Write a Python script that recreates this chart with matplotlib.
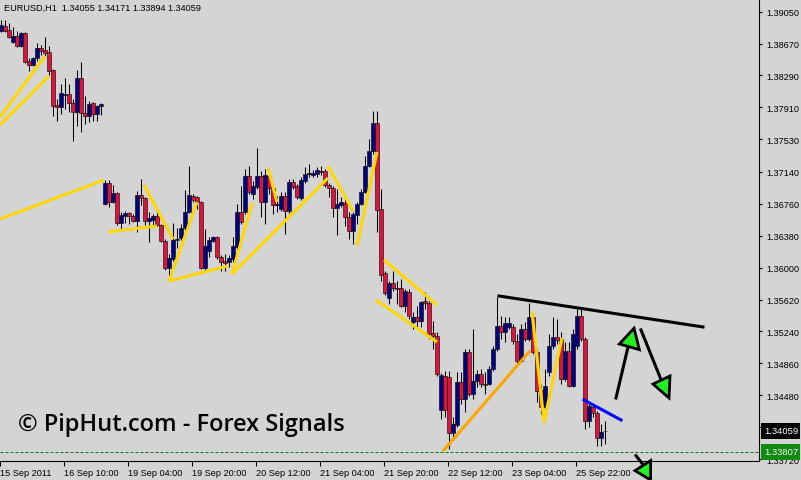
import matplotlib
matplotlib.use("Agg")
import matplotlib.pyplot as plt
from matplotlib.patches import Polygon, Rectangle
from matplotlib.transforms import blended_transform_factory

# ---------------- data (EURUSD H1) ----------------
opens = [1.38820, 1.38880, 1.38832, 1.38688, 1.38760, 1.38641, 1.38796, 1.38462, 1.38415, 1.38498,
         1.38617, 1.38593, 1.38569, 1.38355, 1.37939, 1.37915, 1.38057, 1.38069, 1.37962, 1.37855,
         1.38260, 1.37843, 1.37807, 1.37962, 1.37831, 1.37927, 1.36758, 1.37009, 1.36782, 1.36890,
         1.36532, 1.36616, 1.36651, 1.36616, 1.36556, 1.36866, 1.36830, 1.36556, 1.36568, 1.36616,
         1.36509, 1.36318, 1.35997, 1.36104, 1.36330, 1.36354, 1.36473, 1.36663, 1.36854, 1.36842,
         1.36782, 1.35997, 1.36199, 1.36318, 1.36366, 1.36128, 1.36080, 1.36068, 1.36104, 1.36247,
         1.36663, 1.36663, 1.37093, 1.36878, 1.36962, 1.37093, 1.36782, 1.37093, 1.36950, 1.36747,
         1.36699, 1.36854, 1.36675, 1.37021, 1.36974, 1.36830, 1.37033, 1.37117, 1.37105, 1.37117,
         1.37152, 1.37152, 1.36986, 1.36950, 1.36711, 1.36747, 1.36770, 1.36604, 1.36437, 1.36627,
         1.36758, 1.36902, 1.37212, 1.37390, 1.37724, 1.36699, 1.35937, 1.35639, 1.35817, 1.35758,
         1.35758, 1.35544, 1.35710, 1.35353, 1.35413, 1.35365, 1.35603, 1.35580, 1.35222, 1.35187,
         1.34305, 1.34710, 1.34698, 1.34031, 1.34126, 1.34638, 1.34436, 1.34996, 1.34496, 1.34650,
         1.34734, 1.34614, 1.34614, 1.34793, 1.35031, 1.35306, 1.35234, 1.35294, 1.35294, 1.35127,
         1.34889, 1.35270, 1.35151, 1.35413, 1.34996, 1.34543, 1.34341, 1.34758, 1.35067, 1.35175,
         1.35151, 1.34674, 1.35008, 1.34591, 1.35067, 1.35425, 1.35151, 1.34174, 1.34341, 1.34269,
         1.33971, 1.34055]
highs = [1.38951, 1.38951, 1.38915, 1.38868, 1.38820, 1.38808, 1.38808, 1.38498, 1.38510, 1.38676,
         1.38653, 1.38748, 1.38641, 1.38367, 1.38010, 1.38189, 1.38260, 1.38189, 1.38010, 1.38355,
         1.38450, 1.38045, 1.37986, 1.37974, 1.37939, 1.37962, 1.37045, 1.37045, 1.36986, 1.36902,
         1.36663, 1.36675, 1.36663, 1.36639, 1.36914, 1.37057, 1.36842, 1.36663, 1.36639, 1.36663,
         1.36520, 1.36342, 1.36163, 1.36532, 1.36473, 1.36520, 1.36926, 1.37212, 1.36878, 1.36854,
         1.36794, 1.36461, 1.36366, 1.36378, 1.36378, 1.36152, 1.36163, 1.36152, 1.36366, 1.36758,
         1.36974, 1.37176, 1.37212, 1.37033, 1.37426, 1.37152, 1.37176, 1.37176, 1.36986, 1.36854,
         1.36902, 1.36902, 1.37057, 1.37057, 1.36998, 1.37081, 1.37200, 1.37236, 1.37164, 1.37200,
         1.37212, 1.37176, 1.37009, 1.36974, 1.36938, 1.36842, 1.36818, 1.36663, 1.36663, 1.36782,
         1.36938, 1.37331, 1.37533, 1.37867, 1.37867, 1.36938, 1.35961, 1.35841, 1.35961, 1.35841,
         1.35865, 1.35746, 1.35746, 1.35472, 1.35544, 1.35603, 1.35710, 1.35603, 1.35365, 1.35234,
         1.34746, 1.34769, 1.34769, 1.34222, 1.34758, 1.34758, 1.35031, 1.35031, 1.35270, 1.34781,
         1.34793, 1.34758, 1.34829, 1.35067, 1.35651, 1.35425, 1.35413, 1.35413, 1.35329, 1.35210,
         1.35329, 1.35353, 1.35580, 1.35449, 1.35031, 1.34614, 1.34793, 1.35210, 1.35413, 1.35389,
         1.35234, 1.35115, 1.35115, 1.35270, 1.35508, 1.35508, 1.35175, 1.34400, 1.34377, 1.34293,
         1.34138, 1.34171]
lows = [1.38808, 1.38808, 1.38736, 1.38676, 1.38629, 1.38629, 1.38438, 1.38343, 1.38403, 1.38462,
        1.38534, 1.38522, 1.38296, 1.37807, 1.37748, 1.37831, 1.37891, 1.37855, 1.37509, 1.37688,
        1.37616, 1.37712, 1.37736, 1.37748, 1.37748, 1.37819, 1.36747, 1.36723, 1.36770, 1.36509,
        1.36461, 1.36532, 1.36520, 1.36544, 1.36425, 1.36747, 1.36509, 1.36306, 1.36509, 1.36497,
        1.36306, 1.35973, 1.35841, 1.36080, 1.36235, 1.36330, 1.36437, 1.36651, 1.36782, 1.36699,
        1.35985, 1.35961, 1.36128, 1.36306, 1.36104, 1.35961, 1.35961, 1.36009, 1.36068, 1.36223,
        1.36520, 1.36639, 1.36878, 1.36818, 1.36938, 1.36604, 1.36520, 1.36878, 1.36639, 1.36663,
        1.36675, 1.36401, 1.36651, 1.36938, 1.36818, 1.36806, 1.37009, 1.37081, 1.37081, 1.37081,
        1.37105, 1.36962, 1.36842, 1.36604, 1.36390, 1.36723, 1.36497, 1.36342, 1.36283, 1.36520,
        1.36747, 1.36890, 1.37200, 1.37355, 1.36425, 1.35841, 1.35675, 1.35568, 1.35722, 1.35568,
        1.35532, 1.35472, 1.35389, 1.35270, 1.35270, 1.35294, 1.35508, 1.35151, 1.35031, 1.34710,
        1.34198, 1.34222, 1.33840, 1.33959, 1.34102, 1.34377, 1.34281, 1.34472, 1.34436, 1.34579,
        1.34579, 1.34496, 1.34603, 1.34769, 1.35008, 1.35151, 1.35115, 1.35270, 1.35091, 1.34865,
        1.34877, 1.35127, 1.35127, 1.34972, 1.34400, 1.34257, 1.34317, 1.34710, 1.35031, 1.35091,
        1.34614, 1.34650, 1.34579, 1.34579, 1.35031, 1.35127, 1.34078, 1.34102, 1.34222, 1.33876,
        1.33876, 1.33894]
closes = [1.38892, 1.38820, 1.38748, 1.38760, 1.38641, 1.38796, 1.38450, 1.38415, 1.38498, 1.38617,
          1.38581, 1.38557, 1.38343, 1.37927, 1.37915, 1.38081, 1.38069, 1.37962, 1.37855, 1.38260,
          1.37843, 1.37807, 1.37950, 1.37831, 1.37927, 1.37950, 1.37009, 1.36782, 1.36890, 1.36532,
          1.36627, 1.36651, 1.36616, 1.36556, 1.36866, 1.36830, 1.36556, 1.36592, 1.36616, 1.36509,
          1.36318, 1.35997, 1.36116, 1.36330, 1.36342, 1.36473, 1.36663, 1.36866, 1.36806, 1.36782,
          1.35997, 1.36259, 1.36330, 1.36366, 1.36128, 1.36068, 1.36056, 1.36116, 1.36259, 1.36663,
          1.36544, 1.37093, 1.36902, 1.36974, 1.37093, 1.36782, 1.37105, 1.36950, 1.36747, 1.36758,
          1.36854, 1.36675, 1.37021, 1.36962, 1.36842, 1.37045, 1.37117, 1.37129, 1.37129, 1.37164,
          1.37140, 1.36986, 1.36950, 1.36711, 1.36758, 1.36782, 1.36604, 1.36437, 1.36639, 1.36758,
          1.36902, 1.37212, 1.37390, 1.37724, 1.36687, 1.35913, 1.35699, 1.35817, 1.35758, 1.35746,
          1.35544, 1.35722, 1.35425, 1.35413, 1.35365, 1.35592, 1.35580, 1.35210, 1.35187, 1.34734,
          1.34722, 1.34305, 1.34031, 1.34138, 1.34638, 1.34436, 1.34996, 1.34496, 1.34650, 1.34734,
          1.34614, 1.34603, 1.34793, 1.35031, 1.35306, 1.35234, 1.35341, 1.35341, 1.35127, 1.34889,
          1.35270, 1.35151, 1.35413, 1.34996, 1.34531, 1.34341, 1.34591, 1.35067, 1.35175, 1.35139,
          1.34674, 1.35008, 1.34591, 1.35210, 1.35425, 1.35151, 1.34174, 1.34353, 1.34269, 1.33971,
          1.34043, 1.34059]

ytick_values = [1.39050, 1.38670, 1.38290, 1.37910, 1.37530, 1.37140, 1.36760, 1.36380,
                1.36000, 1.35620, 1.35240, 1.34860, 1.34480, 1.34100, 1.33720]
ytick_hidden = [1.34100]  # covered by the last-price box in the terminal
xtick_bars = [0, 16, 32, 48, 64, 80, 96, 112, 128, 144]
xtick_labels = ["15 Sep 2011", "16 Sep 10:00", "19 Sep 04:00", "19 Sep 20:00", "20 Sep 12:00",
                "21 Sep 04:00", "21 Sep 20:00", "22 Sep 12:00", "23 Sep 04:00", "25 Sep 22:00"]
title_text = "EURUSD,H1  1.34055 1.34171 1.33894 1.34059"
watermark = "\u00a9 PipHut.com - Forex Signals"
last_price = 1.34059
ask_price = 1.33807

# drawn objects: (bar index, price) vertices
yellow_paths = [
    [(-0.25, 1.37795), (11.0, 1.38522)],
    [(-0.25, 1.37700), (12.0, 1.38284)],
    [(-0.25, 1.36580), (25.75, 1.37045)],
    [(26.75, 1.36425), (39.0, 1.36497)],
    [(35.75, 1.36986), (43.0, 1.36342)],
    [(42.0, 1.35841), (49.0, 1.36782)],
    [(42.0, 1.35841), (56.75, 1.36021)],
    [(57.75, 1.35925), (62.75, 1.36770)],
    [(57.75, 1.35925), (81.75, 1.37069)],
    [(66.75, 1.37188), (69.0, 1.36782)],
    [(81.75, 1.37212), (88.0, 1.36675)],
    [(89.0, 1.36259), (94.0, 1.37378)],
    [(95.75, 1.36092), (109.0, 1.35556)],
    [(93.75, 1.35615), (109.0, 1.35115)],
    [(132.75, 1.35472), (135.75, 1.34162), (140.25, 1.35163)],
]
orange_path = [(110.75, 1.33828), (132.0, 1.34996)]
black_path = [(124.5, 1.35663), (175.5, 1.35294)]
blue_path = [(145.75, 1.34424), (155.0, 1.34186)]
arrow_lines = [
    [(153.75, 1.34448), (156.75, 1.35055)],
    [(160.0, 1.35258), (165.25, 1.34638)],
    [(158.75, 1.33760), (161.25, 1.33610)],
]
arrow_heads = [
    [(154.6, 1.35091), (158.25, 1.35278), (159.6, 1.35023)],
    [(163.0, 1.34614), (167.25, 1.34710), (167.0, 1.34448)],
    [(158.5, 1.33582), (162.4, 1.33701), (162.4, 1.33471)],
]

# ---------------- style ----------------
BG = "#D4D4D4"
BULL = "#000080"
BEAR = "#DC143C"
GOLD = "#FFD700"
W, H = 801, 481

fig = plt.figure(figsize=(W / 100, H / 100), dpi=100, facecolor=BG)
ax = fig.add_axes([0, 19 / H, 759 / W, 462 / H])
ax.set_facecolor(BG)
ax.set_xlim(-0.25, 189.5)
ax.set_ylim(1.33697, 1.39201)

n = len(opens)
xs = list(range(n))
ax.vlines(xs, lows, highs, color="black", linewidth=0.75, zorder=2)
for i in xs:
    o, c = opens[i], closes[i]
    col = BULL if c > o else BEAR
    ax.bar(i, abs(c - o), bottom=min(o, c), width=0.8, color=col,
           edgecolor="black", linewidth=0.4, zorder=3)

lw_obj = 2.2
for path in yellow_paths:
    ax.plot([p[0] for p in path], [p[1] for p in path], color=GOLD, lw=lw_obj,
            solid_capstyle="butt", zorder=4)
ax.plot([p[0] for p in orange_path], [p[1] for p in orange_path], color="#FFA500",
        lw=lw_obj, zorder=4)
ax.plot([p[0] for p in black_path], [p[1] for p in black_path], color="black",
        lw=lw_obj, zorder=4)
ax.plot([p[0] for p in blue_path], [p[1] for p in blue_path], color="#0000FF",
        lw=lw_obj, zorder=4)
for ln in arrow_lines:
    ax.plot([p[0] for p in ln], [p[1] for p in ln], color="black", lw=lw_obj,
            zorder=5, clip_on=False)
for tri in arrow_heads:
    ax.add_patch(Polygon(tri, closed=True, facecolor="#22EE22", edgecolor="black",
                         linewidth=2.0, zorder=6, clip_on=False))

ax.axhline(ask_price, color="#008000", lw=0.72, ls=(0, (3, 2)), zorder=4)

# spines / ticks
for s in ["left", "top"]:
    ax.spines[s].set_visible(False)
for s in ["right", "bottom"]:
    ax.spines[s].set_color("black")
    ax.spines[s].set_linewidth(0.8)

ax.yaxis.tick_right()
ax.set_yticks(ytick_values)
ax.set_yticklabels(["" if v in ytick_hidden else f"{v:.5f}" for v in ytick_values])
ax.tick_params(axis="y", direction="out", length=2.5, width=0.8, pad=2.5,
               labelsize=6.6, colors="black")
ax.set_xticks([b - 0.25 for b in xtick_bars])
ax.set_xticklabels(xtick_labels)
ax.tick_params(axis="x", direction="out", length=3.5, width=0.8, pad=1.5,
               labelsize=6.6, colors="black")
for lbl in ax.get_xticklabels() + ax.get_yticklabels():
    lbl.set_fontfamily("Liberation Sans")
for lbl in ax.get_xticklabels():
    lbl.set_horizontalalignment("left")

# price boxes on the right scale
bt = blended_transform_factory(fig.transFigure, ax.transData)
box_h = 16 * (1.39201 - 1.33697) / 462
for price, fc, tc in [(last_price, "black", "white"), (ask_price, "#118A11", "#F0F0F0")]:
    ax.add_patch(Rectangle((761 / W, price - box_h / 2), 39 / W, box_h, transform=bt,
                           facecolor=fc, edgecolor="none", zorder=10, clip_on=False))
    ax.text(764 / W, price, f"{price:.5f}", transform=bt, color=tc, fontsize=6.8,
            fontfamily="Liberation Sans", va="center", ha="left", zorder=11, clip_on=False)

fig.text(4 / W, 1 - 8 / H, title_text, fontsize=6.6, fontfamily="Liberation Sans",
         va="center", ha="left", color="black")
fig.text(18 / W, 1 - 425 / H, watermark, fontsize=17.0, fontfamily="Open Sans",
         fontweight="semibold", va="center", ha="left", color="black", zorder=20)

fig.savefig("out.png", dpi=100, facecolor=BG)
